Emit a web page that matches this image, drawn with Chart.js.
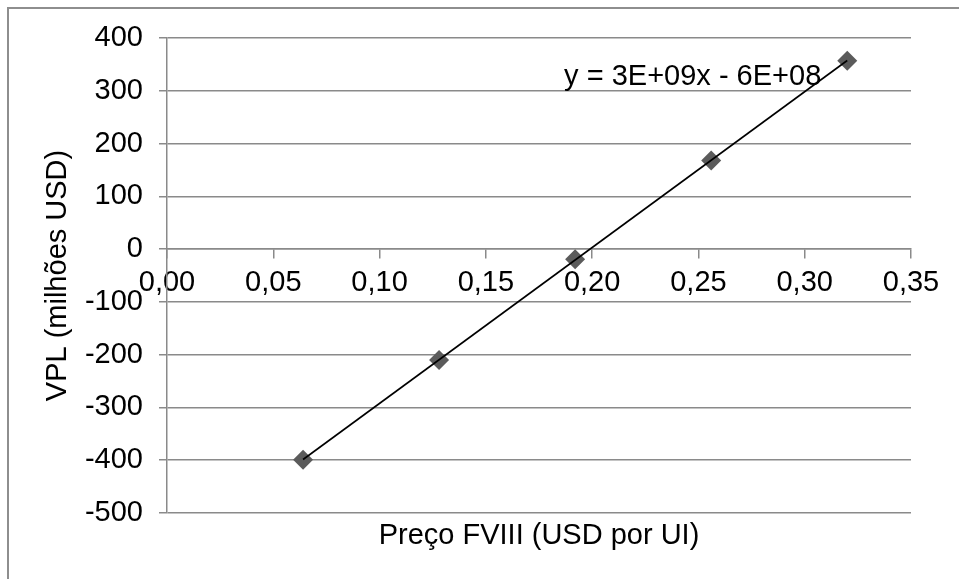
<!DOCTYPE html>
<html>
<head>
<meta charset="utf-8">
<script src="https://cdn.jsdelivr.net/npm/chart.js@4/dist/chart.umd.min.js"></script>
<style>
  html, body { margin: 0; padding: 0; background: #fff; }
  #wrap { position: relative; width: 959px; height: 579px; overflow: hidden; }
  #frame { position: absolute; left: 7px; top: 7px; width: 1000px; height: 1000px;
           border-left: 2px solid #8e8e8e; border-top: 2px solid #8e8e8e; box-sizing: border-box; }
  canvas { position: absolute; left: 0; top: 0; }
</style>
</head>
<body>
<div id="wrap">
  <div id="frame"></div>
  <canvas id="c" width="959" height="579"></canvas>
</div>
<script>
// Preço do FVIII (USD por UI) e VPL resultante (milhões USD)
const precos = [0.064, 0.128, 0.192, 0.256, 0.320];
const vpl = [-399, -210, -19, 168, 357];
const yTicks = [-500, -400, -300, -200, -100, 0, 100, 200, 300, 400];
const xTicks = [0.00, 0.05, 0.10, 0.15, 0.20, 0.25, 0.30, 0.35];
const equacao = 'y = 3E+09x - 6E+08';

// Linear least-squares trendline over the data range
const n = precos.length;
const mx = precos.reduce((a, b) => a + b, 0) / n;
const my = vpl.reduce((a, b) => a + b, 0) / n;
let sxy = 0, sxx = 0;
for (let i = 0; i < n; i++) { sxy += (precos[i] - mx) * (vpl[i] - my); sxx += (precos[i] - mx) ** 2; }
const slope = sxy / sxx, intercept = my - slope * mx;
const xs = [Math.min(...precos), Math.max(...precos)];
const trend = xs.map(x => ({ x, y: intercept + slope * x }));

const FONT = 'Liberation Sans, Arial, sans-serif';
const FSIZE = 29;
const GRID = '#8a8a8a';

const equationLabel = {
  id: 'equationLabel',
  afterDatasetsDraw(chart) {
    const { ctx, scales } = chart;
    const x = scales.x.getPixelForValue(0.2473);
    const y = scales.y.getPixelForValue(327);
    ctx.save();
    ctx.font = FSIZE + 'px ' + FONT;
    ctx.fillStyle = '#000';
    ctx.textAlign = 'center';
    ctx.textBaseline = 'middle';
    ctx.fillText(equacao, x, y);
    ctx.restore();
  }
};

new Chart(document.getElementById('c'), {
  type: 'scatter',
  data: {
    datasets: [
      {
        type: 'line',
        label: 'Tendência',
        data: trend,
        borderColor: '#000',
        borderWidth: 1.6,
        pointRadius: 0,
        fill: false,
        order: 0
      },
      {
        label: 'VPL',
        data: precos.map((x, i) => ({ x, y: vpl[i] })),
        pointStyle: 'rectRot',
        pointRadius: 10,
        pointBackgroundColor: '#5b5b5b',
        pointBorderColor: '#5b5b5b',
        pointBorderWidth: 0,
        order: 1
      }
    ]
  },
  options: {
    responsive: false,
    animation: false,
    events: [],
    layout: { padding: { left: 8, top: 38, right: 48, bottom: 0 } },
    plugins: { legend: { display: false }, tooltip: { enabled: false } },
    scales: {
      x: {
        type: 'linear',
        position: { y: 0 },
        min: xTicks[0],
        max: xTicks[xTicks.length - 1],
        afterFit(s) { s.height = 0; },
        afterBuildTicks(s) { s.ticks = xTicks.map(v => ({ value: v })); },
        ticks: {
          font: { size: FSIZE, family: FONT },
          color: '#000',
          padding: 7,
          maxRotation: 0,
          callback: v => v.toFixed(2).replace('.', ',')
        },
        grid: { drawOnChartArea: false, drawTicks: true, tickLength: 9, color: GRID, lineWidth: 1.5 },
        border: { display: true, color: GRID, width: 1.5 }
      },
      xTitulo: {
        type: 'linear',
        axis: 'x',
        position: 'bottom',
        afterFit(s) { s.height = 66; },
        ticks: { display: false },
        grid: { display: false, drawTicks: false },
        border: { display: false },
        title: {
          display: true,
          text: 'Preço FVIII (USD por UI)',
          color: '#000',
          font: { size: FSIZE, family: FONT },
          padding: { top: 0, bottom: 26 }
        }
      },
      y: {
        type: 'linear',
        position: 'left',
        min: yTicks[0],
        max: yTicks[yTicks.length - 1],
        afterFit(s) { s.width = 159; },
        afterBuildTicks(s) { s.ticks = yTicks.map(v => ({ value: v })); },
        ticks: {
          font: { size: FSIZE, family: FONT },
          color: '#000',
          padding: 16,
          callback: v => String(v)
        },
        grid: { color: GRID, lineWidth: 1.5, tickLength: 8 },
        border: { display: true, color: GRID, width: 1.5 },
        title: {
          display: true,
          text: 'VPL (milhões USD)',
          color: '#000',
          font: { size: FSIZE, family: FONT },
          padding: { top: 33, bottom: 0 }
        }
      }
    }
  },
  plugins: [equationLabel]
});
</script>
</body>
</html>
